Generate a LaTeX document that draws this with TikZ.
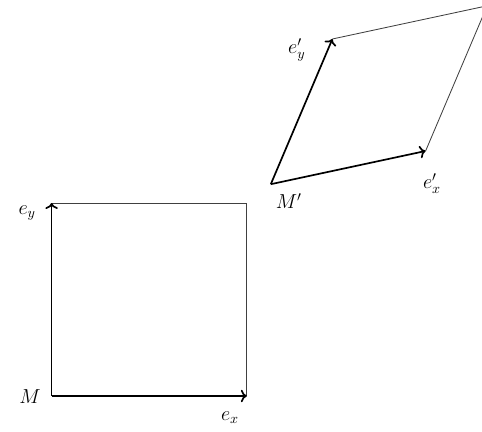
\documentclass[tikz,border=0pt]{standalone}
\usepackage{amsmath}
\usetikzlibrary{arrows.meta,positioning,calc}

\begin{document}
\begin{tikzpicture}[
  basis/.style={->, very thick},
  side/.style={draw=black!75, semithick},
  lbl/.style={font=\Large, inner sep=1pt}
]
  \useasboundingbox (0,0) rectangle (12.05,10.775);

  % original frame (square)
  \coordinate (M) at (1.29,0.875);
  \coordinate (ex) at (6.17,0.875);
  \coordinate (ey) at (1.29,5.7);
  \coordinate (exy) at ($(ex)+(ey)-(M)$);

  % transformed frame (parallelogram)
  \coordinate (Mp) at (6.77,6.17);
  \coordinate (exp) at (10.64,7.0);
  \coordinate (eyp) at (8.31,9.8);
  \coordinate (exyp) at ($(exp)+(eyp)-(Mp)$);

  % sides
  \draw[side] (ex) -- (exy) -- (ey);
  \draw[side] (exp) -- (exyp) -- (eyp);

  % basis vectors
  \draw[basis] (M) -- (ex);
  \draw[basis] (M) -- (ey);
  \draw[basis] (Mp) -- (exp);
  \draw[basis] (Mp) -- (eyp);

  % labels
  \node[lbl] (Mlbl) at (0.75,0.85) {$M$};
  \node[lbl] (exlbl) at (5.75,0.33) {$e_x$};
  \node[lbl] (eylbl) at (0.68,5.45) {$e_y$};
  \node[lbl] (Mplbl) at (7.22,5.75) {$M'$};
  \node[lbl] (explbl) at (10.8,6.18) {$e'_x$};
  \node[lbl] (eyplbl) at (7.42,9.52) {$e'_y$};
\end{tikzpicture}
\end{document}
